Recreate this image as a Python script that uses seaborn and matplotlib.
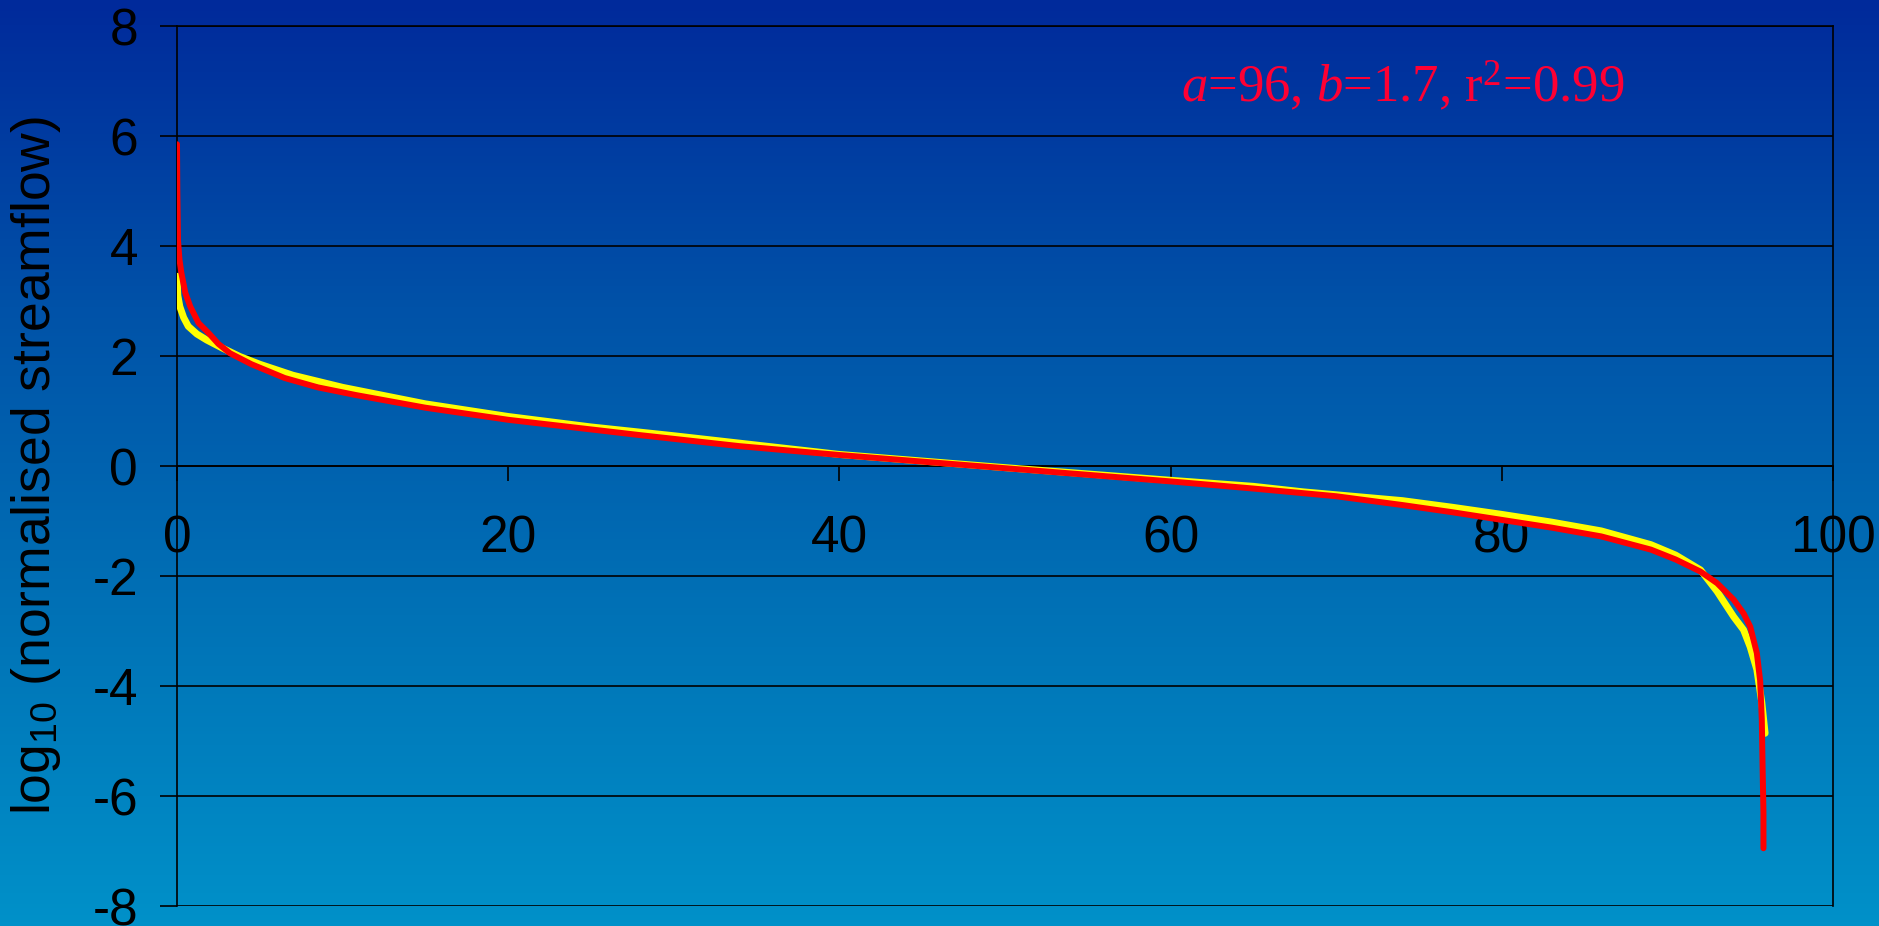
import numpy as np
import pandas as pd
import matplotlib
matplotlib.use("Agg")
import matplotlib.pyplot as plt
from matplotlib.colors import LinearSegmentedColormap
import seaborn as sns

# ---- data ----
obs_x = [0.0, 0.05, 0.17, 0.4, 0.68, 1.2, 1.8, 2.7, 3.8, 5.0, 7.0, 10.0, 15.0, 20.0, 25.0,
         30.0, 40.0, 50.0, 60.0, 65.0, 68.0, 74.0, 77.0, 80.0, 83.0, 86.0, 89.0, 90.5, 92.0,
         93.0, 94.0, 94.6, 95.0, 95.4, 95.7, 95.9]
obs_y = [3.45, 3.1, 2.9, 2.7, 2.54, 2.4, 2.29, 2.15, 1.99, 1.85, 1.65, 1.43, 1.13, 0.9, 0.71,
         0.55, 0.21, -0.03, -0.26, -0.37, -0.47, -0.63, -0.75, -0.88, -1.02, -1.18, -1.43,
         -1.62, -1.89, -2.28, -2.74, -2.98, -3.29, -3.7, -4.3, -4.86]

fit_x = [0.0, 0.02, 0.06, 0.15, 0.27, 0.5, 0.8, 1.3, 1.9, 2.5, 3.2, 4.5, 6.5, 8.5, 10.8, 15.0,
         20.0, 28.0, 34.0, 40.0, 50.0, 60.0, 65.0, 70.0, 74.0, 77.0, 80.0, 83.0, 86.0, 89.0,
         90.5, 92.0, 93.0, 94.0, 94.6, 95.0, 95.4, 95.6, 95.7, 95.75, 95.8, 95.8]
fit_y = [5.85, 5.0, 4.1, 3.75, 3.5, 3.15, 2.9, 2.6, 2.42, 2.22, 2.05, 1.85, 1.6, 1.43, 1.29,
         1.06, 0.84, 0.56, 0.36, 0.2, -0.04, -0.28, -0.41, -0.55, -0.71, -0.84, -0.98, -1.12,
         -1.28, -1.52, -1.7, -1.92, -2.13, -2.43, -2.68, -2.92, -3.4, -3.9, -4.6, -5.5, -6.3,
         -6.95]

x_ticks = [0, 20, 40, 60, 80, 100]
y_ticks = [-8, -6, -4, -2, 0, 2, 4, 6, 8]
y_label = r"log$_{\mathsf{10}}$ (normalised streamflow)"
annotation = r"$\mathit{a}$=96, $\mathit{b}$=1.7, r$^{\mathrm{2}}$=0.99"

obs = pd.DataFrame({"x": obs_x, "y": obs_y})
fit = pd.DataFrame({"x": fit_x, "y": fit_y})

sns.set_theme(style="white")
plt.rcParams["font.family"] = ["Liberation Sans", "DejaVu Sans"]
plt.rcParams["mathtext.fontset"] = "custom"
plt.rcParams["mathtext.rm"] = "Liberation Serif"
plt.rcParams["mathtext.it"] = "Liberation Serif:italic"
plt.rcParams["mathtext.sf"] = "Liberation Sans"

fig = plt.figure(figsize=(18.79, 9.26), dpi=100)

# gradient background
bg = fig.add_axes([0, 0, 1, 1], zorder=-10)
cmap = LinearSegmentedColormap.from_list(
    "bg", ["#002A9B", "#0052A8", "#0072B6", "#0091C9"])
grad = np.linspace(0, 1, 256).reshape(-1, 1)
bg.imshow(grad, aspect="auto", cmap=cmap, extent=[0, 1, 0, 1], origin="upper")
bg.set_axis_off()

ax = fig.add_axes([177 / 1879, 1 - 906 / 926, (1833 - 177) / 1879, 880 / 926])
ax.set_facecolor("none")

sns.lineplot(data=obs, x="x", y="y", ax=ax, color="#FFFF00", lw=5.0,
             sort=False, estimator=None, zorder=3)
sns.lineplot(data=fit, x="x", y="y", ax=ax, color="#FF0000", lw=4.3,
             sort=False, estimator=None, zorder=4, solid_capstyle="round")

ax.set_xlim(0, 100)
ax.set_ylim(-8, 8)
ax.set_xticks(x_ticks)
ax.set_yticks(y_ticks)
ax.set_xticklabels([str(v) for v in x_ticks])
ax.set_yticklabels([str(v) for v in y_ticks])

ax.grid(axis="y", color="black", lw=1.2)
ax.grid(axis="x", visible=False)
ax.set_axisbelow(True)

for s in ["left", "right", "top"]:
    ax.spines[s].set_visible(True)
    ax.spines[s].set_color("black")
    ax.spines[s].set_linewidth(1.2)
ax.spines["bottom"].set_position(("data", 0))
ax.spines["bottom"].set_color("black")
ax.spines["bottom"].set_linewidth(1.2)

ax.tick_params(axis="y", direction="out", length=12, width=1.2, color="black",
               labelsize=37, labelcolor="black", pad=16, left=True)
ax.tick_params(axis="x", direction="out", length=11, width=1.2, color="black",
               labelsize=37, labelcolor="black", pad=24, bottom=True)

ax.set_xlabel("")
ax.set_ylabel("")
fig.text(36 / 1879, 1 - 465 / 926, y_label, rotation=90, ha="center", va="center",
         fontsize=38.5, color="black", family="Liberation Sans")

ax.text(60.6, 6.62, annotation, ha="left", va="baseline", fontsize=38,
        color="#FF0033", family="Liberation Serif")

fig.savefig("out.png", dpi=100)
